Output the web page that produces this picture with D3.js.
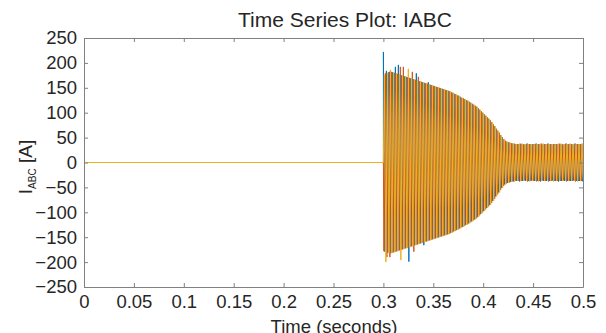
<!DOCTYPE html>
<html>
<head>
<meta charset="utf-8">
<script src="https://cdn.jsdelivr.net/npm/d3@7"></script>
<style>
  html, body { margin: 0; padding: 0; background: #fff; }
  svg { display: block; }
  text { font-family: "Liberation Sans", Arial, sans-serif; fill: #262626; }
</style>
</head>
<body>
<svg id="chart" width="606" height="333"></svg>
<script>
// ---- data ----
const title = "Time Series Plot: IABC";
const xTicks = [0, 0.05, 0.1, 0.15, 0.2, 0.25, 0.3, 0.35, 0.4, 0.45, 0.5];
const xTickLabels = ["0", "0.05", "0.1", "0.15", "0.2", "0.25", "0.3", "0.35", "0.4", "0.45", "0.5"];
const yTicks = [-250, -200, -150, -100, -50, 0, 50, 100, 150, 200, 250];
const xDomain = [0, 0.5];
const yDomain = [-250, 250];
const faultTime = 0.3;         // current is zero until this time (s)
const peakSpacing = 0.0015;    // time between successive extrema of one phase (s)
const phaseNames = ["Ia", "Ib", "Ic"];
const phaseDelay = [0.0000, 0.0005, 0.0010]; // first extremum of each phase after faultTime (s)

// successive extrema (A) of each phase
const peaksA = [
  222, -179, 184, -181, 182, -182, 181, -180, 192, -178,
  196, -176, 175, -174, 173, -172, 171, -199, 169, -168,
  167, -166, 179, -164, 163, -162, 161, -166, 159, -158,
  161, -156, 155, -154, 153, -152, 151, -150, 149, -148,
  147, -146, 145, -144, 143, -141, 140, -138, 137, -135,
  134, -132, 130, -129, 127, -125, 124, -122, 120, -118,
  116, -114, 112, -109, 106, -103, 100, -97, 94, -91,
  88, -85, 81, -77, 73, -68, 64, -60, 55, -51,
  47, -44, 42, -41, 40, -39, 38, -38, 37, -37,
  37, -38, 37, -37, 36, -37, 38, -37, 37, -36,
  37, -37, 38, -37, 37, -38, 36, -37, 37, -37,
  38, -37, 37, -36, 37, -37, 37, -38, 37, -37,
  36, -37, 38, -37, 37, -37, 37, -36, 38, -37,
  37, -37, 37, -38];
const peaksB = [
  -178, 179, -190, 181, -190, 182, -181, 180, -179, 178,
  -177, 192, -175, 192, -173, 172, -171, 170, -169, 182,
  -179, 166, -165, 172, -163, 162, -161, 160, -159, 158,
  -157, 156, -155, 154, -153, 152, -151, 150, -149, 148,
  -147, 146, -145, 144, -143, 141, -140, 138, -137, 135,
  -134, 132, -130, 129, -127, 125, -124, 122, -120, 118,
  -116, 114, -112, 109, -106, 103, -100, 97, -94, 91,
  -88, 85, -81, 77, -73, 68, -64, 60, -55, 51,
  -47, 44, -42, 41, -40, 39, -38, 38, -37, 37,
  -37, 38, -37, 37, -36, 37, -38, 37, -37, 36,
  -37, 37, -38, 37, -37, 38, -36, 37, -37, 37,
  -38, 37, -37, 36, -37, 37, -37, 38, -37, 37,
  -36, 37, -38, 37, -37, 37, -37, 36, -38, 37,
  -37, 37, -37, 38];
const peaksC = [
  176, -200, 180, -181, 186, -182, 181, -180, 179, -178,
  177, -196, 175, -174, 173, -172, 188, -170, 169, -168,
  167, -166, 165, -164, 163, -162, 161, -160, 159, -158,
  157, -156, 155, -154, 153, -152, 151, -150, 149, -148,
  147, -146, 145, -144, 143, -141, 140, -138, 137, -135,
  134, -132, 130, -129, 127, -125, 124, -122, 120, -118,
  116, -114, 112, -109, 106, -103, 100, -97, 94, -91,
  88, -85, 81, -77, 73, -68, 64, -60, 55, -51,
  47, -44, 42, -41, 40, -39, 38, -38, 37, -37,
  37, -37, 38, -37, 37, -36, 37, -38, 37, -37,
  36, -37, 37, -38, 37, -37, 38, -37, 37, -36,
  37, -37, 37, -38, 36, -37, 37, -37, 38, -37,
  37, -36, 37, -37, 38, -37, 37, -37, 36, -38,
  37, -37, 38, -37];
const seriesPeaks = [peaksA, peaksB, peaksC];
const colors = ["#0072BD", "#D95319", "#EDB120"];

// ---- layout ----
const svg = d3.select("#chart");
const mLeft = 84, mRight = 583, mTop = 38, mBottom = 287;
const x = d3.scaleLinear().domain(xDomain).range([mLeft, mRight]);
const y = d3.scaleLinear().domain(yDomain).range([mBottom, mTop]);

svg.append("defs").append("clipPath").attr("id", "clip")
  .append("rect").attr("x", mLeft).attr("y", mTop).attr("width", mRight - mLeft).attr("height", mBottom - mTop);

// series
const line = d3.line().x(d => x(d[0])).y(d => y(d[1]));
const g = svg.append("g").attr("clip-path", "url(#clip)");
seriesPeaks.forEach((pk, i) => {
  const pts = [[xDomain[0], 0], [faultTime, 0]];
  pk.forEach((v, k) => pts.push([faultTime + phaseDelay[i] + k * peakSpacing, v]));
  g.append("path").datum(pts)
    .attr("fill", "none").attr("stroke", colors[i]).attr("stroke-width", 1)
    .attr("stroke-linejoin", "round").attr("d", line);
});

// axes (box with inward ticks)
const axisColor = "#808080";
const tl = 4;
const axB = d3.axisBottom(x).tickValues(xTicks).tickSizeInner(-tl).tickSizeOuter(0)
  .tickFormat((d, i) => xTickLabels[i]).tickPadding(8);
const axT = d3.axisTop(x).tickValues(xTicks).tickSizeInner(-tl).tickSizeOuter(0).tickFormat("");
const axL = d3.axisLeft(y).tickValues(yTicks).tickSizeInner(-tl).tickSizeOuter(0).tickPadding(7);
const axR = d3.axisRight(y).tickValues(yTicks).tickSizeInner(-tl).tickSizeOuter(0).tickFormat("");

function style(sel) {
  sel.select(".domain").attr("stroke", axisColor);
  sel.selectAll(".tick line").attr("stroke", axisColor);
  sel.selectAll(".tick text").attr("fill", "#262626")
    .style("font-family", '"Liberation Sans", Arial, sans-serif').style("font-size", "18.5px");
}
svg.append("g").attr("transform", `translate(0,${mBottom})`).call(axB).call(style);
svg.append("g").attr("transform", `translate(0,${mTop})`).call(axT).call(style);
svg.append("g").attr("transform", `translate(${mLeft},0)`).call(axL).call(style);
svg.append("g").attr("transform", `translate(${mRight},0)`).call(axR).call(style);

// title
svg.append("text").attr("x", 345).attr("y", 27).attr("text-anchor", "middle")
  .style("font-size", "21px").text(title);

// x label
svg.append("text").attr("x", 334).attr("y", 333).attr("text-anchor", "middle")
  .style("font-size", "18.5px").text("Time (seconds)");

// y label with subscript
const yl = svg.append("text").attr("transform", "translate(32,167) rotate(-90)")
  .attr("text-anchor", "middle").style("font-size", "19px");
yl.append("tspan").text("I");
yl.append("tspan").attr("dy", 4).style("font-size", "10px").text("ABC");
yl.append("tspan").attr("dy", -4).text(" [A]");
</script>
</body>
</html>
